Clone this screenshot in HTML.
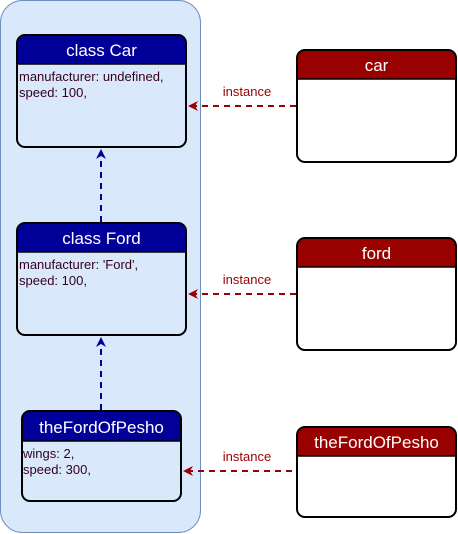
<!DOCTYPE html>
<html><head><meta charset="utf-8"><style>
html,body{margin:0;padding:0;background:#fff;}
svg{display:block;font-family:"Liberation Sans",sans-serif;}
</style></head><body>
<svg width="458" height="534" viewBox="0 0 458 534" xmlns="http://www.w3.org/2000/svg">
<defs>
<marker id="ar" markerWidth="10" markerHeight="10" refX="8" refY="5" orient="auto" markerUnits="userSpaceOnUse"><path d="M0,0 L10,5 L0,10 L3,5 Z" fill="#990000"/></marker>
<marker id="ab" markerWidth="10" markerHeight="10" refX="8" refY="5" orient="auto" markerUnits="userSpaceOnUse"><path d="M0,0 L10,5 L0,10 L3,5 Z" fill="#000099"/></marker>
</defs>
<rect x="0.5" y="0.5" width="200" height="532" rx="22" fill="#dae8fc" stroke="#6c8ebf"/>

<!-- class Car -->
<g>
<path d="M17,64 V43 Q17,35 25,35 H178 Q186,35 186,43 V64 Z" fill="#000099"/>
<rect x="17" y="35" width="169" height="112" rx="8" fill="none" stroke="#000" stroke-width="2"/>
<line x1="17" y1="64" x2="186" y2="64" stroke="#000" stroke-width="1.5"/>
<text x="101.5" y="56" fill="#fff" font-size="17" text-anchor="middle">class Car</text>
<text x="19" y="81" fill="#33001a" font-size="13">manufacturer: undefined,</text>
<text x="19" y="97" fill="#33001a" font-size="13">speed: 100,</text>
</g>
<!-- class Ford -->
<g>
<path d="M17,252 V231 Q17,223 25,223 H178 Q186,223 186,231 V252 Z" fill="#000099"/>
<rect x="17" y="223" width="169" height="112" rx="8" fill="none" stroke="#000" stroke-width="2"/>
<line x1="17" y1="252" x2="186" y2="252" stroke="#000" stroke-width="1.5"/>
<text x="101.5" y="244" fill="#fff" font-size="17" text-anchor="middle">class Ford</text>
<text x="19" y="269" fill="#33001a" font-size="13">manufacturer: 'Ford',</text>
<text x="19" y="285" fill="#33001a" font-size="13">speed: 100,</text>
</g>
<!-- theFordOfPesho blue -->
<g>
<path d="M22,441 V419 Q22,411 30,411 H173 Q181,411 181,419 V441 Z" fill="#000099"/>
<rect x="22" y="411" width="159" height="90" rx="8" fill="none" stroke="#000" stroke-width="2"/>
<line x1="22" y1="441" x2="181" y2="441" stroke="#000" stroke-width="1.5"/>
<text x="101.5" y="433" fill="#fff" font-size="17" text-anchor="middle">theFordOfPesho</text>
<text x="23" y="458" fill="#33001a" font-size="13">wings: 2,</text>
<text x="23" y="474" fill="#33001a" font-size="13">speed: 300,</text>
</g>

<!-- right boxes -->
<g>
<rect x="297" y="50" width="159" height="112" rx="8" fill="#fff"/>
<path d="M297,79 V58 Q297,50 305,50 H448 Q456,50 456,58 V79 Z" fill="#990000"/>
<rect x="297" y="50" width="159" height="112" rx="8" fill="none" stroke="#000" stroke-width="2"/>
<line x1="297" y1="79" x2="456" y2="79" stroke="#000" stroke-width="1.5"/>
<text x="376.5" y="71" fill="#fff" font-size="17" text-anchor="middle">car</text>
</g>
<g>
<rect x="297" y="238" width="159" height="112" rx="8" fill="#fff"/>
<path d="M297,267 V246 Q297,238 305,238 H448 Q456,238 456,246 V267 Z" fill="#990000"/>
<rect x="297" y="238" width="159" height="112" rx="8" fill="none" stroke="#000" stroke-width="2"/>
<line x1="297" y1="267" x2="456" y2="267" stroke="#000" stroke-width="1.5"/>
<text x="376.5" y="259" fill="#fff" font-size="17" text-anchor="middle">ford</text>
</g>
<g>
<rect x="297" y="427" width="159" height="90" rx="8" fill="#fff"/>
<path d="M297,456 V435 Q297,427 305,427 H448 Q456,427 456,435 V456 Z" fill="#990000"/>
<rect x="297" y="427" width="159" height="90" rx="8" fill="none" stroke="#000" stroke-width="2"/>
<line x1="297" y1="456" x2="456" y2="456" stroke="#000" stroke-width="1.5"/>
<text x="376.5" y="448" fill="#fff" font-size="17" text-anchor="middle">theFordOfPesho</text>
</g>

<!-- instance arrows -->
<g stroke="#990000" stroke-width="2" stroke-dasharray="6,5" fill="none">
<line x1="296" y1="106" x2="190" y2="106" marker-end="url(#ar)"/>
<line x1="296" y1="294" x2="190" y2="294" marker-end="url(#ar)"/>
<line x1="292" y1="471" x2="185" y2="471" marker-end="url(#ar)"/>
</g>
<g fill="#990000" font-size="13" text-anchor="middle">
<text x="247" y="96">instance</text>
<text x="247" y="284">instance</text>
<text x="247" y="461">instance</text>
</g>
<!-- inheritance arrows -->
<g stroke="#000099" stroke-width="2" stroke-dasharray="6,5" fill="none">
<line x1="101" y1="222" x2="101" y2="151" marker-end="url(#ab)"/>
<line x1="101" y1="410" x2="101" y2="339" marker-end="url(#ab)"/>
</g>
</svg>
</body></html>
